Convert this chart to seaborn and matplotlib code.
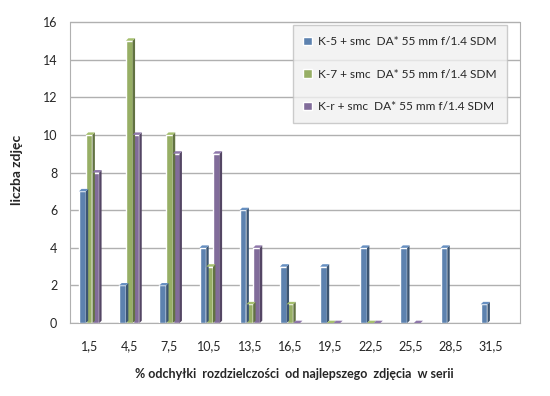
import matplotlib.pyplot as plt
import matplotlib.colors as mcolors
import numpy as np
import pandas as pd
import seaborn as sns
from matplotlib.patches import Polygon

bins = ["1,5", "4,5", "7,5", "10,5", "13,5", "16,5", "19,5", "22,5", "25,5", "28,5", "31,5"]
k5 = [7, 2, 2, 4, 6, 3, 3, 4, 4, 4, 1]
k7 = [10, 15, 10, 3, 1, 1, 0, 0, np.nan, np.nan, np.nan]
kr = [8, 10, 9, 9, 4, 0, 0, 0, 0, np.nan, np.nan]
series = [
    "K-5 + smc  DA* 55 mm f/1.4 SDM",
    "K-7 + smc  DA* 55 mm f/1.4 SDM",
    "K-r + smc  DA* 55 mm f/1.4 SDM",
]
colors = ["#4F81BD", "#9BBB59", "#8064A2"]

df = pd.DataFrame({
    "bin": bins * 3,
    "count": k5 + k7 + kr,
    "series": [series[0]] * len(bins) + [series[1]] * len(bins) + [series[2]] * len(bins),
})

sns.set_style("white")
plt.rcParams["font.family"] = ["Lato", "DejaVu Sans"]

fig = plt.figure(figsize=(5.5, 3.96), dpi=100)
ax = fig.add_axes([0.127, 0.184, 0.818, 0.775])

sns.barplot(data=df, x="bin", y="count", hue="series", palette=colors,
            width=0.5, dodge=True, ax=ax, legend=True, zorder=3)

# fake 3D side/top faces, built from the bar patches themselves
dx, dy = 0.06, 0.13
for bar in list(ax.patches):
    h = bar.get_height()
    if np.isnan(h):
        continue
    x0, w = bar.get_x(), bar.get_width()
    base = mcolors.to_rgb(bar.get_facecolor())
    dark = tuple(c * 0.65 for c in base)
    light = tuple(min(1, c * 1.1) for c in base)
    side = Polygon([(x0 + w, 0), (x0 + w + dx, dy), (x0 + w + dx, h + dy), (x0 + w, h)],
                   closed=True, facecolor=dark, edgecolor="none", zorder=3)
    top = Polygon([(x0, h), (x0 + dx, h + dy), (x0 + w + dx, h + dy), (x0 + w, h)],
                  closed=True, facecolor=light, edgecolor="none", zorder=3)
    ax.add_patch(side)
    ax.add_patch(top)

ax.set_ylim(0, 16.3)
ax.set_xlim(-0.48, 10.72)
ax.set_yticks(range(0, 17, 2))
ax.yaxis.grid(True, color="#b0b0b0", linewidth=1, zorder=0)
ax.set_axisbelow(True)
ax.spines["top"].set_visible(False)
for s in ["left", "bottom", "right"]:
    ax.spines[s].set_color("#b0b0b0")
ax.spines["right"].set_bounds(0, 16)
ax.spines["left"].set_bounds(0, 16)
ax.tick_params(axis="y", length=3, color="#888888", labelsize=9, pad=6)
ax.tick_params(axis="x", length=0, labelsize=9, pad=12)

ax.set_xlabel("% odchyłki  rozdzielczości  od najlepszego  zdjęcia  w serii",
              fontsize=9, fontweight="bold", labelpad=12)
ax.set_ylabel("liczba zdjęc", fontsize=10, fontweight="bold", labelpad=14)

leg = ax.legend(loc="upper right", bbox_to_anchor=(0.985, 0.99), fontsize=8.6,
                frameon=True, facecolor="#f0f0f0", edgecolor="#c0c0c0",
                fancybox=False, labelspacing=1.8, handlelength=0.7, handleheight=0.7,
                borderpad=0.9, handletextpad=0.5)
leg.get_frame().set_linewidth(1)
leg.set_zorder(5)

fig.savefig("out.png", dpi=100)
